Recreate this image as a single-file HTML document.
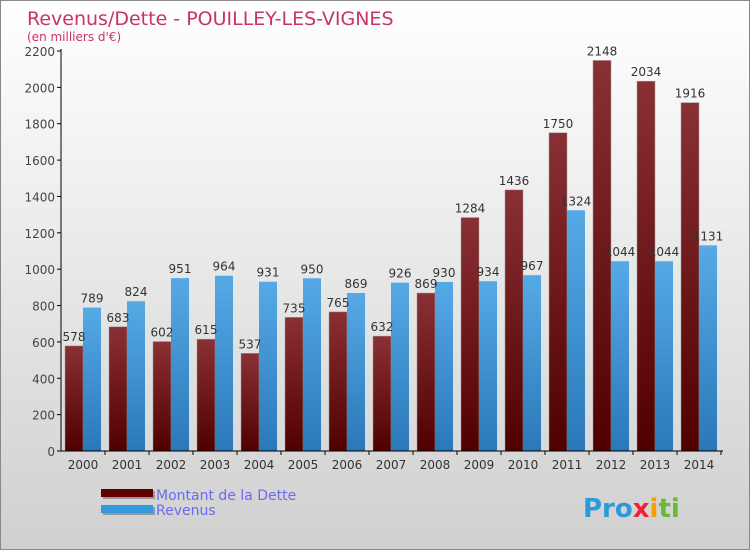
<!DOCTYPE html>
<html><head><meta charset="utf-8"><style>
body{margin:0}
#c{position:relative;width:748px;height:548px;border:1px solid #888;background:linear-gradient(#ffffff,#d0d0d0);font-family:"DejaVu Sans","Liberation Sans",sans-serif;overflow:hidden}
</style></head><body>
<div id="c">
<svg id="s" width="748" height="548">
<defs>
<linearGradient id="gr" x1="0" y1="0" x2="0" y2="1"><stop offset="0" stop-color="#8a3035"/><stop offset="1" stop-color="#500000"/></linearGradient>
<linearGradient id="gb" x1="0" y1="0" x2="0" y2="1"><stop offset="0" stop-color="#55aae6"/><stop offset="1" stop-color="#2a78b8"/></linearGradient>
</defs>
<text x="26" y="24" font-size="19" fill="#c8336a">Revenus/Dette - POUILLEY-LES-VIGNES</text>
<text x="26" y="40" font-size="12" fill="#c8336a">(en milliers d'€)</text>
<g id="plot"></g>
<g>
<rect x="102" y="490" width="52" height="8" fill="#999"/><rect x="100" y="488" width="52" height="8" fill="#600000"/>
<text x="155" y="499" font-size="14" fill="#6a6af0">Montant de la Dette</text>
<rect x="102" y="506" width="52" height="8" fill="#999"/><rect x="100" y="504" width="52" height="8" fill="#3399dd"/>
<text x="155" y="514" font-size="14" fill="#6a6af0">Revenus</text>
</g>
<text x="582" y="516" font-size="26" font-weight="bold" fill="#2a9ad8">Pro<tspan fill="#e23">x</tspan><tspan fill="#f5a000">i</tspan><tspan fill="#6b3">ti</tspan></text>
</svg>
</div>
<script>
const years=["2000","2001","2002","2003","2004","2005","2006","2007","2008","2009","2010","2011","2012","2013","2014"];
const dette=[578,683,602,615,537,735,765,632,869,1284,1436,1750,2148,2034,1916];
const revenus=[789,824,951,964,931,950,869,926,930,934,967,1324,1044,1044,1131];
const ticks=[0,200,400,600,800,1000,1200,1400,1600,1800,2000,2200];
const NS="http://www.w3.org/2000/svg";
const g=document.getElementById('plot');
const y=v=>450-v*400/2200;
const x0=60,slot=44;
function el(t,a,txt){const e=document.createElementNS(NS,t);for(const k in a)e.setAttribute(k,a[k]);if(txt!==undefined)e.textContent=txt;g.appendChild(e);return e;}
ticks.forEach(t=>{
 const l=el('line',{x1:56,x2:60,y1:y(t),y2:y(t),stroke:'#000'});
 
 
 const tx=el('text',{x:54,y:y(t)+5,'font-size':12,fill:'#444','text-anchor':'end'},t);
 
 
});
years.forEach((yr,i)=>{
 const bx=x0+i*slot+4;
 const r1=el('rect',{x:bx,y:y(dette[i]),width:18,height:450-y(dette[i]),fill:'url(#gr)',stroke:'#999','stroke-width':0.5});
 
 
 const r2=el('rect',{x:bx+18,y:y(revenus[i]),width:18,height:450-y(revenus[i]),fill:'url(#gb)'});
 
 
 const t1=el('text',{x:bx+9,y:y(dette[i])-5,'font-size':12,fill:'#333','text-anchor':'middle'},dette[i]);
 
 
 const t2=el('text',{x:bx+27,y:y(revenus[i])-5,'font-size':12,fill:'#333','text-anchor':'middle'},revenus[i]);
 
 
 const tk=el('line',{x1:x0+(i+1)*slot,x2:x0+(i+1)*slot,y1:450,y2:454,stroke:'#000'});
 
 
 const xl=el('text',{x:bx+18,y:468,'font-size':12,fill:'#333','text-anchor':'middle'},yr);
 
 
});
const ya=el('line',{x1:60,x2:60,y1:48,y2:450,stroke:'#000'});


const xa=el('line',{x1:60,x2:722,y1:450,y2:450,stroke:'#000'});


</script>
</body></html>
